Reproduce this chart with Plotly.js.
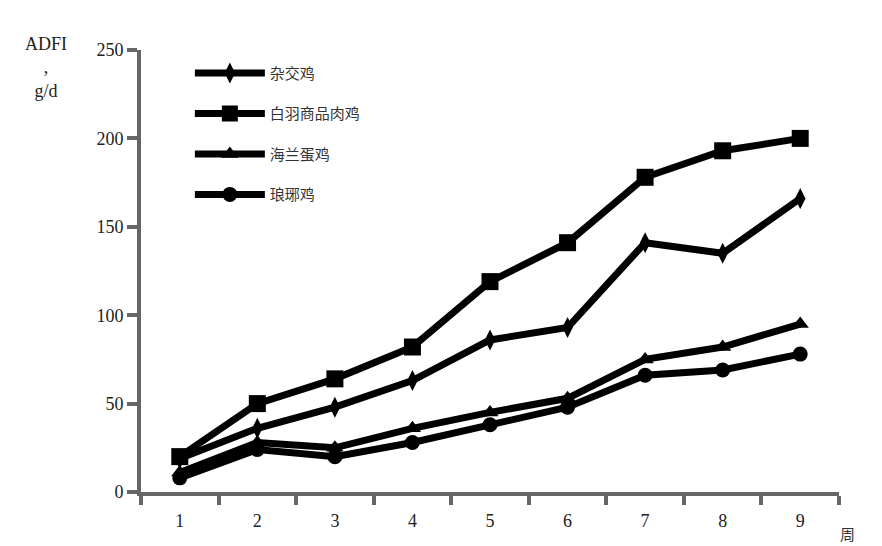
<!DOCTYPE html>
<html>
<head>
<meta charset="utf-8">
<script src="https://cdn.plot.ly/plotly-3.0.1.min.js"></script>
<style>html,body{margin:0;padding:0;background:#fff;}#chart{width:882px;height:546px;}</style>
</head>
<body>
<div id="chart"></div>
<script>
const weeks = ["1","2","3","4","5","6","7","8","9"];
const seriesNames = ["杂交鸡","白羽商品肉鸡","海兰蛋鸡","琅琊鸡"];
const zajiao = [19, 36, 48, 63, 86, 93, 141, 135, 166];
const baiyu = [20, 50, 64, 82, 119, 141, 178, 193, 200];
const hailan = [11, 28, 25, 36, 45, 53, 75, 82, 95];
const langya = [8, 24, 20, 28, 38, 48, 66, 69, 78];
const yTicks = [0, 50, 100, 150, 200, 250];

const values = [zajiao, baiyu, hailan, langya];
const symbols = ["diamond-tall", "square", "triangle-up", "circle"];
const sizes = [15, 17, 15, 15];

const traces = values.map((v, i) => ({
  x: weeks, y: v, name: seriesNames[i], type: "scatter", mode: "lines+markers",
  legendgroup: "g" + i,
  line: {color: "#000", width: 7},
  marker: {symbol: symbols[i], size: sizes[i], color: "#000"}
}));

const layout = {
  width: 882, height: 546,
  margin: {l: 141, r: 43, t: 50, b: 54},
  paper_bgcolor: "#fff", plot_bgcolor: "#fff",
  showlegend: true,
  legend: {
    x: 0.07, y: 0.985, xanchor: "left", yanchor: "top",
    font: {family: "Noto Sans CJK SC", size: 15, color: "#333"},
    tracegroupgap: 18, itemwidth: 70, bgcolor: "rgba(0,0,0,0)"
  },
  xaxis: {
    type: "category", range: [-0.5, 8.5], tickson: "boundaries",
    showline: true, linecolor: "#666", linewidth: 4,
    ticks: "outside", ticklen: 9, tickwidth: 4, tickcolor: "#666",
    showgrid: false, zeroline: false, fixedrange: true,
    tickfont: {family: "Liberation Serif", size: 18, color: "#222"},
    ticklabelstandoff: 9
  },
  yaxis: {
    range: [0, 250], tickvals: yTicks, ticktext: yTicks.map(String),
    showline: true, linecolor: "#666", linewidth: 4,
    ticks: "outside", ticklen: 10, tickwidth: 4, tickcolor: "#666",
    showgrid: false, zeroline: false, fixedrange: true,
    tickfont: {family: "Liberation Serif", size: 18, color: "#222"}
  },
  annotations: [
    {text: "ADFI<br>,<br>g/d", xref: "paper", yref: "paper", x: -0.136, y: 1.04,
     xanchor: "center", yanchor: "top", showarrow: false, align: "center",
     font: {family: "Liberation Serif", size: 18, color: "#222"}},
    {text: "周", xref: "paper", yref: "paper", x: 0.999, y: -0.093,
     xanchor: "left", yanchor: "middle", showarrow: false,
     font: {family: "Noto Sans CJK SC", size: 15, color: "#333"}}
  ]
};

Plotly.newPlot("chart", traces, layout, {displayModeBar: false, staticPlot: true});
</script>
</body>
</html>
